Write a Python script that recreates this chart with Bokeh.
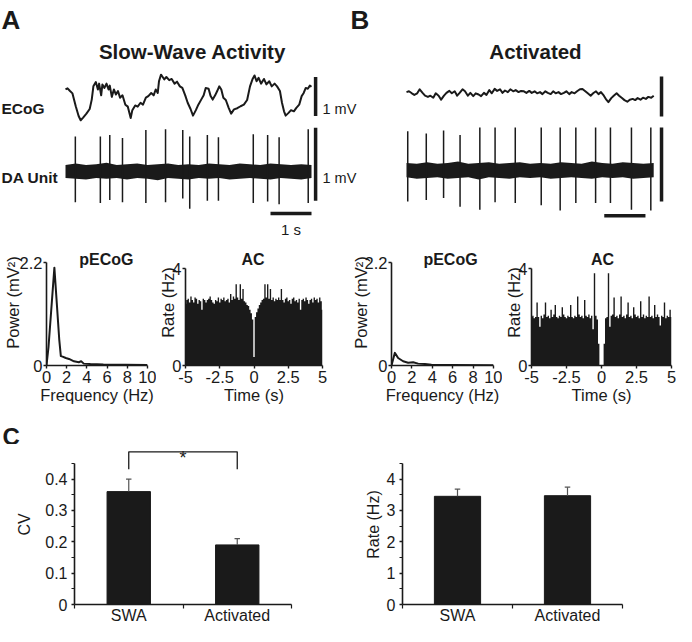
from bokeh.plotting import figure
from bokeh.models import Range1d, FixedTicker, Label
from bokeh.layouts import column, row
from bokeh.embed import file_html
from bokeh.resources import INLINE
from bokeh.core.properties import value

FONT = "Liberation Sans"
INK = "#1a1a1a"

# ---------------- data ----------------
# ECoG traces: (time s, mV)
ecog_swa = [(0.00, 0.18), (0.05, 0.21), (0.11, 0.14), (0.17, 0.08), (0.25, -0.25), (0.32, -0.50),
            (0.37, -0.61), (0.43, -0.54), (0.51, -0.44), (0.59, -0.32), (0.64, -0.08), (0.68, 0.26),
            (0.74, 0.37), (0.79, 0.18), (0.82, 0.33), (0.87, 0.03), (0.90, 0.31), (0.95, 0.22),
            (1.00, 0.33), (1.05, 0.18), (1.08, 0.28), (1.13, -0.01), (1.18, 0.18), (1.23, 0.05),
            (1.28, 0.14), (1.33, -0.03), (1.39, 0.03), (1.46, -0.21), (1.52, -0.26), (1.59, -0.55),
            (1.63, -0.35), (1.70, -0.23), (1.76, -0.26), (1.83, -0.16), (1.89, -0.21), (1.96, -0.03),
            (2.02, 0.01), (2.09, 0.09), (2.15, 0.03), (2.20, 0.18), (2.25, 0.09), (2.28, 0.39),
            (2.33, 0.56), (2.37, 0.50), (2.41, 0.44), (2.46, 0.50), (2.53, 0.42), (2.59, 0.45),
            (2.66, 0.33), (2.72, 0.38), (2.79, 0.26), (2.85, 0.22), (2.92, 0.03), (2.98, -0.16),
            (3.05, -0.32), (3.11, -0.49), (3.18, -0.35), (3.24, -0.21), (3.31, -0.08), (3.37, 0.03),
            (3.42, 0.22), (3.49, 0.20), (3.54, 0.01), (3.59, -0.08), (3.65, 0.03), (3.70, 0.14),
            (3.75, 0.26), (3.80, 0.18), (3.85, -0.03), (3.91, -0.09), (3.98, -0.29), (4.04, -0.44),
            (4.11, -0.33), (4.19, -0.30), (4.27, -0.25), (4.35, -0.21), (4.43, -0.09), (4.50, 0.26),
            (4.56, 0.44), (4.61, 0.54), (4.66, 0.39), (4.71, 0.48), (4.77, 0.33), (4.84, 0.45),
            (4.90, 0.31), (4.97, 0.39), (5.03, 0.26), (5.10, 0.33), (5.16, 0.26), (5.23, 0.14),
            (5.28, -0.16), (5.33, -0.38), (5.37, -0.49), (5.44, -0.42), (5.50, -0.35), (5.57, -0.38),
            (5.63, -0.29), (5.70, -0.21), (5.76, 0.01), (5.81, 0.09), (5.86, 0.22), (5.91, 0.20),
            (5.96, 0.28), (6.00, 0.25)]
ecog_act = [(0.00, 0.06), (0.06, 0.08), (0.13, 0.03), (0.19, -0.01), (0.26, 0.03), (0.32, 0.13),
            (0.39, 0.04), (0.45, -0.03), (0.52, -0.06), (0.58, -0.03), (0.65, -0.08), (0.71, 0.03),
            (0.78, -0.03), (0.84, -0.13), (0.91, -0.03), (0.97, 0.04), (1.04, 0.09), (1.10, 0.03),
            (1.17, 0.08), (1.23, -0.03), (1.29, 0.04), (1.36, 0.13), (1.42, 0.08), (1.49, -0.03),
            (1.55, 0.04), (1.62, -0.04), (1.68, 0.03), (1.75, 0.00), (1.81, -0.04), (1.88, 0.04),
            (1.94, -0.01), (2.01, 0.11), (2.07, 0.03), (2.14, 0.14), (2.20, 0.09), (2.27, 0.13),
            (2.33, 0.04), (2.39, 0.10), (2.46, 0.06), (2.52, 0.13), (2.59, 0.08), (2.65, 0.11),
            (2.72, 0.06), (2.78, 0.09), (2.85, 0.08), (2.91, 0.04), (2.98, 0.09), (3.04, 0.04),
            (3.11, 0.08), (3.17, 0.03), (3.24, 0.06), (3.30, 0.01), (3.37, 0.08), (3.43, 0.04),
            (3.50, 0.01), (3.56, 0.08), (3.62, 0.03), (3.69, 0.06), (3.75, 0.01), (3.82, 0.04),
            (3.88, 0.08), (3.95, 0.01), (4.01, 0.06), (4.08, 0.03), (4.14, 0.08), (4.21, 0.13),
            (4.27, 0.14), (4.34, 0.08), (4.40, 0.03), (4.47, -0.03), (4.53, 0.03), (4.60, 0.08),
            (4.66, 0.01), (4.72, 0.06), (4.79, -0.03), (4.85, -0.13), (4.90, -0.19), (4.97, -0.09),
            (5.03, -0.03), (5.10, 0.03), (5.16, -0.03), (5.23, -0.09), (5.29, -0.14), (5.36, -0.18),
            (5.42, -0.13), (5.49, -0.11), (5.55, -0.14), (5.61, -0.09), (5.68, -0.13), (5.74, -0.08),
            (5.81, -0.11), (5.87, -0.06), (5.94, -0.08), (6.00, -0.03)]

# DA unit spikes: (time s, top mV, bottom mV)
spikes_swa = [(0.24, 0.48, -0.42), (0.85, 0.48, -0.43), (1.08, 0.50, -0.39), (1.39, 0.46, -0.42),
              (1.96, 0.57, -0.43), (2.44, 0.58, -0.42), (2.86, 0.57, -0.37), (3.03, 0.48, -0.51),
              (3.46, 0.50, -0.40), (3.73, 0.47, -0.40), (4.58, 0.51, -0.43), (4.93, 0.50, -0.41),
              (5.21, 0.47, -0.45), (5.92, 0.58, -0.43)]
spikes_act = [(0.03, 0.53, -0.42), (0.48, 0.50, -0.40), (0.90, 0.54, -0.37), (1.30, 0.48, -0.49),
              (1.78, 0.58, -0.53), (2.15, 0.58, -0.43), (2.64, 0.58, -0.44), (3.27, 0.58, -0.47),
              (3.73, 0.58, -0.54), (4.11, 0.58, -0.44), (4.59, 0.58, -0.44), (4.95, 0.58, -0.44),
              (5.46, 0.58, -0.53), (5.93, 0.58, -0.54)]
# DA unit noise band edges: (time s, upper mV, lower mV)
band_swa = [(0.0, 0.09, -0.09), (0.25, 0.11, -0.10), (0.5, 0.09, -0.11), (0.75, 0.10, -0.09),
            (1.0, 0.12, -0.10), (1.25, 0.09, -0.09), (1.5, 0.10, -0.11), (1.75, 0.11, -0.09),
            (2.0, 0.09, -0.10), (2.25, 0.10, -0.12), (2.5, 0.11, -0.09), (2.75, 0.09, -0.10),
            (3.0, 0.10, -0.11), (3.25, 0.09, -0.09), (3.5, 0.11, -0.10), (3.75, 0.10, -0.09),
            (4.0, 0.09, -0.11), (4.25, 0.11, -0.10), (4.5, 0.10, -0.09), (4.75, 0.09, -0.10),
            (5.0, 0.11, -0.11), (5.25, 0.10, -0.09), (5.5, 0.09, -0.10), (5.75, 0.10, -0.11),
            (6.0, 0.09, -0.09)]
band_act = [(0.0, 0.10, -0.09), (0.25, 0.09, -0.11), (0.5, 0.11, -0.10), (0.75, 0.09, -0.09),
            (1.0, 0.10, -0.11), (1.25, 0.12, -0.10), (1.5, 0.09, -0.09), (1.75, 0.10, -0.12),
            (2.0, 0.11, -0.09), (2.25, 0.09, -0.10), (2.5, 0.10, -0.11), (2.75, 0.11, -0.09),
            (3.0, 0.09, -0.10), (3.25, 0.10, -0.09), (3.5, 0.09, -0.11), (3.75, 0.11, -0.10),
            (4.0, 0.10, -0.09), (4.25, 0.09, -0.10), (4.5, 0.12, -0.11), (4.75, 0.10, -0.09),
            (5.0, 0.09, -0.10), (5.25, 0.11, -0.09), (5.5, 0.10, -0.11), (5.75, 0.09, -0.10),
            (6.0, 0.10, -0.09)]

# ECoG power spectra
pecog_swa_freq = [0, 0.2, 0.78, 1.26, 1.42, 1.59, 1.91, 2.23, 2.72, 3.2, 3.43, 3.69, 4.34, 5.63, 10]
pecog_swa_pow = [0, 0.4, 2.09, 0.56, 0.2, 0.19, 0.16, 0.14, 0.09, 0.07, 0.09, 0.04, 0.03, 0.02, 0.01]
pecog_act_freq = [0, 0.33, 0.65, 1.14, 1.63, 2.12, 2.61, 3.27, 3.92, 6, 10]
pecog_act_pow = [0, 0.27, 0.16, 0.09, 0.06, 0.07, 0.04, 0.03, 0.015, 0.01, 0.007]

# Autocorrelograms (bins of 0.1 s, -5 .. 5 s)
ac_bin = 0.1
ac_lag = [round(-5 + i * ac_bin, 1) for i in range(101)]
ac_swa_rate = [2.55, 2.7, 2.75, 2.6, 2.85, 2.7, 2.6, 2.8, 2.75, 2.55,
               2.7, 2.65, 2.3, 2.75, 2.7, 2.6, 2.7, 2.75, 2.85, 2.7,
               2.6, 2.55, 2.7, 2.65, 2.8, 2.6, 2.75, 2.7, 2.8, 2.65,
               2.7, 2.75, 2.6, 2.95, 2.7, 2.85, 2.75, 3.35, 2.8, 2.7,
               3.35, 2.75, 3.15, 2.65, 2.6, 2.5, 2.45, 2.3, 2.15, 1.9,
               0.35,
               2.0, 2.2, 2.35, 2.5, 2.6, 2.7, 2.75, 3.35, 2.8, 3.35,
               2.75, 3.15, 2.7, 2.8, 2.65, 2.75, 2.7, 2.8, 2.7, 3.15,
               2.7, 2.6, 2.75, 2.8, 2.65, 2.7, 2.55, 2.75, 2.8, 2.65,
               2.7, 2.6, 2.75, 2.3, 2.7, 2.75, 2.65, 2.8, 2.7, 2.55,
               2.7, 2.75, 2.6, 2.8, 2.7, 2.75, 2.6, 2.8, 2.65, 2.3]
ac_act_rate = [2.0, 2.05, 1.95, 2.0, 2.6, 2.0, 1.6, 2.05, 1.95, 2.1,
               2.6, 2.0, 2.05, 1.95, 2.3, 2.0, 2.1, 2.5, 2.0, 1.95,
               2.05, 2.0, 2.4, 2.1, 2.0, 1.95, 2.05, 2.0, 2.5, 2.0,
               1.95, 2.05, 2.0, 2.85, 2.1, 2.0, 2.05, 1.95, 2.7, 2.05,
               2.0, 2.1, 1.95, 2.05, 1.5, 3.8, 2.05, 1.9, 0.9, 0.0,
               0.0,
               0.0, 0.9, 1.95, 2.0, 3.8, 1.6, 2.05, 2.1, 2.8, 2.0,
               2.05, 1.95, 2.1, 2.85, 2.0, 2.05, 1.95, 2.1, 2.6, 2.0,
               2.05, 1.95, 2.4, 2.1, 2.0, 2.05, 1.95, 2.65, 2.0, 2.1,
               1.95, 2.05, 2.0, 2.85, 2.0, 2.05, 1.95, 2.5, 2.0, 2.1,
               2.0, 1.65, 2.05, 2.0, 2.6, 1.95, 2.05, 2.0, 2.3, 2.0]

# Panel C
groups = ["SWA", "Activated"]
cv_mean = [0.36, 0.19]
cv_sem = [0.04, 0.02]
rate_mean = [3.45, 3.47]
rate_sem = [0.23, 0.27]


# ---------------- helpers ----------------
def make_fig(box, frame, xr, yr, axes=True):
    x0, y0, x1, y1 = box
    fx0, fy0, fx1, fy1 = frame
    kw = dict(width=x1 - x0, height=y1 - y0,
              x_range=Range1d(*xr), y_range=Range1d(*yr),
              output_backend="svg", toolbar_location=None,
              min_border_left=fx0 - x0, min_border_right=x1 - fx1,
              min_border_top=fy0 - y0, min_border_bottom=y1 - fy1)
    if not axes:
        kw["x_axis_location"] = None
        kw["y_axis_location"] = None
    p = figure(**kw)
    p.outline_line_color = None
    p.grid.visible = False
    p.background_fill_color = "white"
    p.border_fill_color = "white"

    def mx(rx):
        return xr[0] + (rx - fx0) * (xr[1] - xr[0]) / (fx1 - fx0)

    def my(ry):
        return yr[0] + (fy1 - ry) * (yr[1] - yr[0]) / (fy1 - fy0)
    return p, mx, my


def add_label(p, text, x, y, size, bold=False, align="left", baseline="alphabetic", **kw):
    p.add_layout(Label(x=x, y=y, text=text, text_font=FONT, text_font_size=size,
                       text_font_style="bold" if bold else "normal", text_color=INK,
                       text_align=align, text_baseline=baseline, **kw))


def style_axes(p, tick_size, label_size, standoff=1):
    for ax in p.axis:
        ax.axis_line_color = INK
        ax.axis_line_width = 1.6
        ax.major_tick_line_color = INK
        ax.major_tick_line_width = 1.4
        ax.major_tick_in = 0
        ax.major_tick_out = 3
        ax.minor_tick_line_color = None
        ax.major_label_text_font = FONT
        ax.major_label_text_font_size = tick_size
        ax.major_label_text_color = INK
        ax.major_label_standoff = standoff
        ax.axis_label_text_font = FONT
        ax.axis_label_text_font_size = label_size
        ax.axis_label_text_font_style = "normal"
        ax.axis_label_text_color = INK


# ---------------- top row: raw traces (one canvas, page-pixel label coords) ----------------
TOP = (8, 11, 684, 250)
top, _, _ = make_fig(TOP, TOP, (TOP[0], TOP[2]), (TOP[3], TOP[1]), axes=False)


def add_traces(name, t0_ref, px_s, ecog_zero, ecog_px, da_zero, da_px, ecog, spikes, band,
               ecog_bar_t, ecog_bar, da_bar, time_bar, time_bar_y):
    tx, ey, dy = "t_" + name, "ecog_" + name, "da_" + name
    top.extra_x_ranges[tx] = Range1d((TOP[0] - t0_ref) / px_s, (TOP[2] - t0_ref) / px_s)
    top.extra_y_ranges[ey] = Range1d((ecog_zero - TOP[3]) / ecog_px, (ecog_zero - TOP[1]) / ecog_px)
    top.extra_y_ranges[dy] = Range1d((da_zero - TOP[3]) / da_px, (da_zero - TOP[1]) / da_px)
    et, ev = zip(*ecog)
    top.line(list(et), list(ev), line_color=INK, line_width=2.0, line_join="round",
             x_range_name=tx, y_range_name=ey)
    bt, bhi, blo = zip(*band)
    top.varea(x=list(bt), y1=list(blo), y2=list(bhi), fill_color=INK,
              x_range_name=tx, y_range_name=dy)
    st, stop, sbot = zip(*spikes)
    top.segment(x0=list(st), y0=list(sbot), x1=list(st), y1=list(stop),
                line_color=INK, line_width=1.5, x_range_name=tx, y_range_name=dy)
    top.segment(x0=[ecog_bar_t], y0=[ecog_bar[0]], x1=[ecog_bar_t], y1=[ecog_bar[1]],
                line_color=INK, line_width=3.5, x_range_name=tx, y_range_name=ey)
    top.segment(x0=[ecog_bar_t], y0=[da_bar[0]], x1=[ecog_bar_t], y1=[da_bar[1]],
                line_color=INK, line_width=3.5, x_range_name=tx, y_range_name=dy)
    top.segment(x0=[time_bar[0]], y0=[time_bar_y], x1=[time_bar[1]], y1=[time_bar_y],
                line_color=INK, line_width=3.5, x_range_name=tx, y_range_name=dy)


add_traces("swa", 73, 41.0, 107, 39.0, 182, 73.0, ecog_swa, spikes_swa, band_swa,
           6.1, (-0.5, 0.5), (-0.4, 0.6), (5.0, 6.0), -0.575)
add_traces("act", 414, 41.2, 105, 40.0, 181, 74.0, ecog_act, spikes_act, band_act,
           6.19, (-0.55, 0.45), (-0.42, 0.58), (4.8, 5.8), -0.61)

add_label(top, "A", 9, 30, "26px", bold=True)
add_label(top, "B", 358, 30, "26px", bold=True)
add_label(top, "Slow-Wave Activity", 200, 61.5, "20.5px", bold=True, align="center")
add_label(top, "Activated", 543, 61.5, "20.5px", bold=True, align="center")
add_label(top, "ECoG", 9, 119, "15.5px", bold=True)
add_label(top, "DA Unit", 9, 188, "15.5px", bold=True)
add_label(top, "1 mV", 330, 119.5, "14.5px")
add_label(top, "1 mV", 330, 188.5, "14.5px")
add_label(top, "1 s", 298.5, 240, "15px", align="center")


# ---------------- middle row ----------------
MID_TOP, MID_BOT = 250, 420


def spectrum_panel(x0, x1, frame_x, freq, power, ylab_standoff, title_x):
    axis_top, axis_bot = 273, 376
    ytop = 2.2 * (axis_bot - MID_TOP) / (axis_bot - axis_top)
    box = (x0, MID_TOP, x1, MID_BOT)
    p, mx, my = make_fig(box, (frame_x[0], MID_TOP, frame_x[1], axis_bot), (0, 10), (0, ytop))
    p.line(freq, power, line_color=INK, line_width=2.0, line_join="round")
    style_axes(p, "16.5px", "16.5px")
    p.xaxis.ticker = FixedTicker(ticks=[0, 2, 4, 6, 8, 10])
    p.yaxis.ticker = FixedTicker(ticks=[0, 2.2])
    p.yaxis.bounds = (0, 2.2)
    p.yaxis.major_label_overrides = {0: "0", 2.2: "2.2"}
    p.xaxis.axis_label = "Frequency (Hz)"
    p.yaxis.axis_label = "Power (mV\u00b2)"
    p.xaxis.major_label_standoff = 2
    p.xaxis.axis_label_standoff = 0
    p.yaxis.axis_label_standoff = ylab_standoff
    add_label(p, "pECoG", mx(title_x), my(269.5), "16px", bold=True, align="center")
    return p


def ac_panel(x0, x1, frame_x, lag, rate, ylab_standoff, title_x):
    axis_top, axis_bot = 279, 376
    ytop = 4 * (axis_bot - MID_TOP) / (axis_bot - axis_top)
    box = (x0, MID_TOP, x1, MID_BOT)
    p, mx, my = make_fig(box, (frame_x[0], MID_TOP, frame_x[1], axis_bot), (-5, 5), (0, ytop))
    p.varea_step(x=lag, y1=[0] * len(lag), y2=rate, step_mode="center", fill_color=INK)
    style_axes(p, "16.5px", "16.5px")
    p.xaxis.ticker = FixedTicker(ticks=[-5, -2.5, 0, 2.5, 5])
    p.xaxis.major_label_overrides = {-5: "-5", -2.5: "-2.5", 0: "0", 2.5: "2.5", 5: "5"}
    p.yaxis.ticker = FixedTicker(ticks=[0, 4])
    p.yaxis.bounds = (0, 4)
    p.yaxis.major_label_overrides = {0: "0", 4: "4"}
    p.xaxis.axis_label = "Time (s)"
    p.yaxis.axis_label = "Rate (Hz)"
    p.xaxis.major_label_standoff = 2
    p.xaxis.axis_label_standoff = 0
    p.yaxis.axis_label_standoff = ylab_standoff
    add_label(p, "AC", mx(title_x), my(269.5), "16px", bold=True, align="center")
    return p


spec_a = spectrum_panel(8, 164, (52, 155), pecog_swa_freq, pecog_swa_pow, -5, 113)
acor_a = ac_panel(164, 346, (188, 330), ac_lag, ac_swa_rate, -8, 258)
spec_b = spectrum_panel(346, 510, (399, 501), pecog_act_freq, pecog_act_pow, -8, 458)
acor_b = ac_panel(510, 684, (539, 679), ac_lag, ac_act_rate, -8, 610)

# ---------------- strip holding the panel letter C ----------------
CSTRIP = (8, MID_BOT, 684, 455)
cstrip, _, _ = make_fig(CSTRIP, CSTRIP, (CSTRIP[0], CSTRIP[2]), (CSTRIP[3], CSTRIP[1]), axes=False)
add_label(cstrip, "C", 10, 447, "24px", bold=True)


# ---------------- bottom row: bar charts ----------------
BOT_TOP, BOT_BOT = 455, 637


def bar_panel(x0, x1, frame_x, means, sems, px_per_unit, major, minor, overrides, ylabel,
              ylab_standoff, bar_w, sig=False):
    axis_bot = 617
    ytop = (axis_bot - BOT_TOP) / px_per_unit
    box = (x0, BOT_TOP, x1, BOT_BOT)
    p, mx, my = make_fig(box, (frame_x[0], BOT_TOP, frame_x[1], axis_bot),
                         (0.5, len(groups) + 0.5), (0, ytop))
    xs = list(range(1, len(groups) + 1))
    p.vbar(x=xs, top=means, width=bar_w, fill_color=INK, line_color=INK, line_width=1)
    tops = [m + e for m, e in zip(means, sems)]
    p.segment(x0=xs, y0=means, x1=xs, y1=tops, line_color="#555555", line_width=1.2)
    p.segment(x0=[x - 0.025 for x in xs], y0=tops, x1=[x + 0.025 for x in xs], y1=tops,
              line_color="#555555", line_width=1.2)
    style_axes(p, "16px", "16px", standoff=4)
    p.yaxis.ticker = FixedTicker(ticks=major, minor_ticks=minor)
    p.yaxis.bounds = (0, minor[-1])
    p.yaxis.major_label_overrides = overrides
    p.yaxis.minor_tick_line_color = INK
    p.yaxis.minor_tick_line_width = 1.2
    p.yaxis.minor_tick_in = 0
    p.yaxis.minor_tick_out = 3
    p.yaxis.axis_label = ylabel
    p.yaxis.axis_label_standoff = ylab_standoff
    p.xaxis.ticker = FixedTicker(ticks=xs, minor_ticks=[x - 0.5 for x in xs] + [xs[-1] + 0.5])
    p.xaxis.major_label_overrides = {x: g for x, g in zip(xs, groups)}
    p.xaxis.major_tick_out = 0
    p.xaxis.major_tick_line_color = None
    p.xaxis.major_label_standoff = -2
    p.xaxis.minor_tick_line_color = INK
    p.xaxis.minor_tick_line_width = 1.2
    p.xaxis.minor_tick_in = 0
    p.xaxis.minor_tick_out = 4
    if sig:
        by = max(tops) + 0.087
        leg = by - 0.056
        p.line([xs[0], xs[0], xs[1], xs[1]], [leg, by, by, leg], line_color=INK, line_width=1.3)
        p.text(x=[(xs[0] + xs[1]) / 2], y=[by - 0.02], text=["*"], text_align="center",
               text_baseline="alphabetic", text_font=value(FONT),
               text_font_size=value("18px"), text_color=INK)
    return p


cv_plot = bar_panel(8, 346, (82, 299), cv_mean, cv_sem, 317.5,
                    [0, 0.1, 0.2, 0.3, 0.4], [0.05, 0.15, 0.25, 0.35, 0.45],
                    {0: "0", 0.1: "0.1", 0.2: "0.2", 0.3: "0.3", 0.4: "0.4"},
                    "CV", 9, 0.4, sig=True)
rate_plot = bar_panel(346, 684, (410, 630), rate_mean, rate_sem, 31.75,
                      [0, 1, 2, 3, 4], [0.5, 1.5, 2.5, 3.5, 4.5],
                      {0: "0", 1: "1", 2: "2", 3: "3", 4: "4"},
                      "Rate (Hz)", 2, 0.42)

layout = column(top,
                row(spec_a, acor_a, spec_b, acor_b),
                cstrip,
                row(cv_plot, rate_plot))

open("out.html", "w").write(file_html(layout, INLINE))
